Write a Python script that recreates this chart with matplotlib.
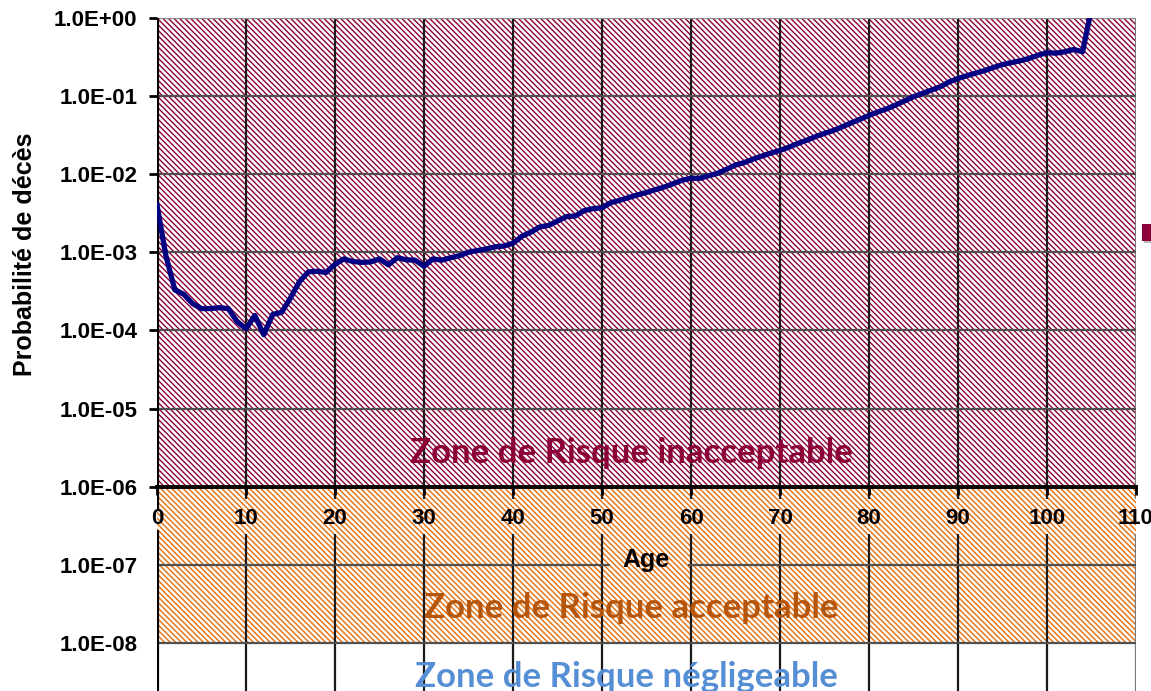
import matplotlib
matplotlib.use("Agg")
import matplotlib.pyplot as plt
from matplotlib.patches import Rectangle
from matplotlib.ticker import FixedLocator, FuncFormatter, NullLocator

# probabilité de décès par âge
ages = list(range(0, 106))
prob = [
    4.0e-3, 9.0e-4, 3.3e-4, 2.9e-4, 2.2e-4, 1.9e-4, 1.9e-4, 1.95e-4, 1.9e-4, 1.3e-4,
    1.05e-4, 1.55e-4, 8.8e-5, 1.6e-4, 1.7e-4, 2.6e-4, 4.2e-4, 5.6e-4, 5.7e-4, 5.5e-4,
    7.0e-4, 8.2e-4, 7.6e-4, 7.4e-4, 7.5e-4, 8.2e-4, 6.9e-4, 8.5e-4, 8.0e-4, 7.9e-4,
    6.6e-4, 8.2e-4, 7.9e-4, 8.5e-4, 9.0e-4, 1.0e-3, 1.05e-3, 1.1e-3, 1.17e-3, 1.2e-3,
    1.3e-3, 1.6e-3, 1.8e-3, 2.1e-3, 2.2e-3, 2.5e-3, 2.85e-3, 2.9e-3, 3.4e-3, 3.6e-3,
    3.7e-3, 4.3e-3, 4.6e-3, 5.0e-3, 5.4e-3, 5.8e-3, 6.3e-3, 6.8e-3, 7.5e-3, 8.3e-3,
    8.8e-3, 8.8e-3, 9.5e-3, 1.02e-2, 1.15e-2, 1.3e-2, 1.4e-2, 1.55e-2, 1.7e-2, 1.85e-2,
    2.0e-2, 2.2e-2, 2.45e-2, 2.7e-2, 3.0e-2, 3.3e-2, 3.6e-2, 4.0e-2, 4.5e-2, 5.0e-2,
    5.6e-2, 6.2e-2, 6.8e-2, 7.6e-2, 8.6e-2, 9.7e-2, 1.07e-1, 1.18e-1, 1.3e-1, 1.5e-1,
    1.66e-1, 1.8e-1, 1.95e-1, 2.1e-1, 2.3e-1, 2.5e-1, 2.65e-1, 2.8e-1, 3.0e-1, 3.3e-1,
    3.55e-1, 3.5e-1, 3.65e-1, 3.9e-1, 3.65e-1, 1.3,
]

# zones de risque (bornes en probabilité)
zone_inacceptable = [1e-6, 1.0]
zone_acceptable = [1e-8, 1e-6]
zone_labels = ["Zone de Risque inacceptable", "Zone de Risque acceptable",
               "Zone de Risque négligeable"]

x_ticks = list(range(0, 111, 10))
y_ticks = [1e0, 1e-1, 1e-2, 1e-3, 1e-4, 1e-5, 1e-6, 1e-7, 1e-8]

maroon = "#8B0038"
orange = "#E36C0A"

plt.rcParams["font.family"] = ["Liberation Sans", "DejaVu Sans"]
plt.rcParams["hatch.linewidth"] = 1.0

fig = plt.figure(figsize=(11.51, 6.91), dpi=100)
ax = fig.add_axes([157 / 1151, 0.0, (1136 - 157) / 1151, (691 - 17.5) / 691])

ax.set_yscale("log")
ymin, ymax = 10 ** -8.61, 1.0
ax.set_xlim(0, 110)
ax.set_ylim(ymin, ymax)

hatch = "\\" * 6
ax.fill_between([0, 110], zone_inacceptable[0], zone_inacceptable[1],
                facecolor="white", edgecolor=maroon, hatch=hatch, linewidth=0, zorder=0.5)
ax.fill_between([0, 110], zone_acceptable[0], zone_acceptable[1],
                facecolor="white", edgecolor=orange, hatch=hatch, linewidth=0, zorder=0.5)

# grille : les étiquettes des ticks et "Age" coupent les lignes
label_gap = (10 ** -6.15, 10 ** -6.6)
for x in x_ticks:
    if x == 0:
        continue
    c = "#1a1a1a" if x < 110 else "#7a7a7a"
    ax.vlines(x, label_gap[0], ymax, color=c, lw=1.6, zorder=1.5)
    ax.vlines(x, ymin, label_gap[1], color=c, lw=1.6, zorder=1.5)
age_gap = (50.9, 59.7)
for y in y_ticks:
    if y == 1e-6:
        continue
    if y == 1e-7:
        ax.hlines(y, 0, age_gap[0], color="#505050", lw=1.6, zorder=1.5)
        ax.hlines(y, age_gap[1], 110, color="#505050", lw=1.6, zorder=1.5)
    else:
        ax.hlines(y, 0, 110, color="#505050" if y < 1 else "#8a8a8a",
                  lw=1.6, zorder=1.5)
# axe vertical épais, interrompu par l'étiquette "0"
ax.vlines(0, 10 ** -6.3, ymax, color="black", lw=3, zorder=2)
ax.vlines(0, ymin, 10 ** -6.55, color="black", lw=3, zorder=2)

ax.plot(ages, prob, color="#000080", lw=3.8, solid_joinstyle="round", zorder=3)

# axes / ticks
ax.xaxis.set_major_locator(FixedLocator(x_ticks))
ax.yaxis.set_major_locator(FixedLocator(y_ticks))
ax.yaxis.set_minor_locator(NullLocator())
ax.yaxis.set_major_formatter(FuncFormatter(lambda v, p: f"{v:.1E}"))

ax.spines["bottom"].set_position(("data", 1e-6))
ax.spines["bottom"].set_linewidth(2.8)
ax.spines["bottom"].set_zorder(2.5)
for s in ("left", "top", "right"):
    ax.spines[s].set_visible(False)

ax.tick_params(axis="x", direction="out", length=6, width=2, pad=9, labelsize=16)
ax.tick_params(axis="y", direction="out", length=6, width=2, pad=8, labelsize=16)
for lab in ax.get_xticklabels() + ax.get_yticklabels():
    lab.set_fontweight("bold")
for tick, v in zip(ax.yaxis.get_major_ticks(), y_ticks):
    if v < 1e-6:
        tick.tick1line.set_visible(False)

fig.text(25 / 1151, 1 - 254 / 691, "Probabilité de décès", rotation=90,
         ha="center", va="center", fontsize=18, fontweight="bold")
fig.text(646 / 1151, 1 - 560 / 691, "Age", ha="center", va="center",
         fontsize=18, fontweight="bold")

zone_font = ["Lato", "DejaVu Sans"]
ax.text(53.3, 10 ** -5.70, zone_labels[0], ha="center", va="baseline",
        fontsize=25, fontweight="bold", color=maroon, family=zone_font, zorder=4)
ax.text(53.3, 10 ** -7.68, zone_labels[1], ha="center", va="baseline",
        fontsize=25, fontweight="bold", color="#B5560C", family=zone_font, zorder=4)
ax.text(52.8, 10 ** -8.56, zone_labels[2], ha="center", va="baseline",
        fontsize=25, fontweight="bold", color="#558ED5", family=zone_font, zorder=4)

# marqueur de légende coupé à droite
fig.add_artist(Rectangle((1144 / 1151, 1 - 243 / 691), 8 / 1151, 17 / 691,
                         transform=fig.transFigure, facecolor="#bbbbbb", edgecolor="none"))
fig.add_artist(Rectangle((1142 / 1151, 1 - 241 / 691), 9 / 1151, 17 / 691,
                         transform=fig.transFigure, facecolor=maroon, edgecolor="none"))

fig.savefig("out.png", dpi=100)
